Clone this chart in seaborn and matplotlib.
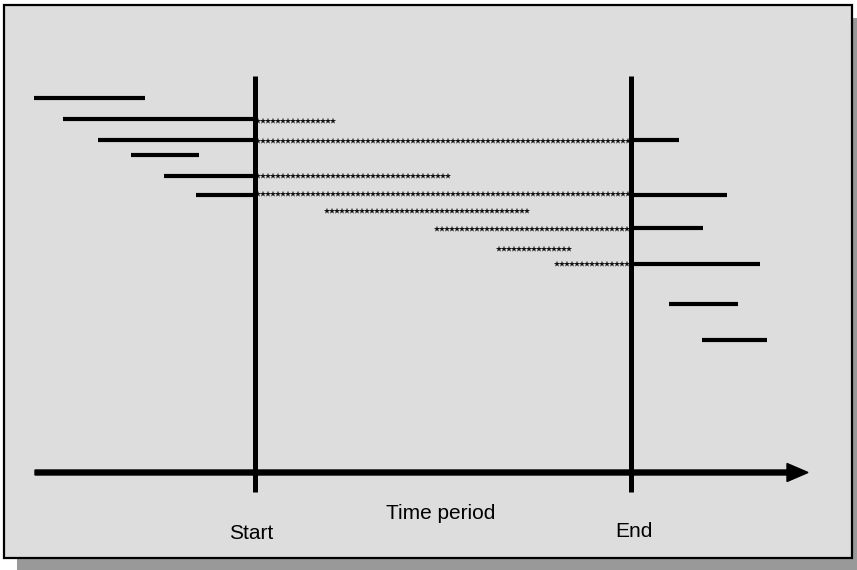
import matplotlib
matplotlib.use("Agg")
import matplotlib.pyplot as plt
import seaborn as sns
import numpy as np
import pandas as pd
from matplotlib.patches import Rectangle

sns.set_theme(style="white")
plt.rcParams['font.family'] = ['Liberation Sans', 'DejaVu Sans']

# period boundaries (x) and where the boundary lines run (y)
start_x = 255
end_x = 631
bound_top = 76
bound_bottom = 492

# solid bars: observed part of each spell
seg_y = [98, 119, 140, 155, 176, 195, 140, 195, 228, 264, 304, 340]
seg_x0 = [34, 63, 98, 131, 164, 196, 631, 631, 631, 631, 669, 702]
seg_x1 = [145, 255, 255, 199, 255, 255, 679, 727, 703, 760, 738, 767]

# starred bars: part of each spell inside the period
dot_y = [121, 141, 176, 194, 211, 229, 249, 264]
dot_x0 = [258, 258, 258, 258, 327, 437, 499, 557]
dot_x1 = [336, 629, 448, 629, 528, 628, 571, 627]

labels = ["Start", "Time period", "End"]
label_x = [251, 441, 634]
label_y = [539, 519, 537]

fig = plt.figure(figsize=(8.57, 5.70), dpi=100)
ax = fig.add_axes([0, 0, 1, 1])
ax.set_xlim(0, 857)
ax.set_ylim(570, 0)
ax.axis("off")

# frame with drop shadow
ax.add_patch(Rectangle((17, 18), 850, 560, facecolor="#999999", edgecolor="none", zorder=0))
ax.add_patch(Rectangle((4.5, 5), 848, 553, facecolor="#DDDDDD", edgecolor="black", lw=1.6, zorder=1))

rows = []
for i, (y, a, b) in enumerate(zip(seg_y, seg_x0, seg_x1)):
    rows.append({"seg": i, "x": a, "y": y})
    rows.append({"seg": i, "x": b, "y": y})
seg_df = pd.DataFrame(rows)
sns.lineplot(data=seg_df, x="x", y="y", units="seg", estimator=None, sort=False,
             color="black", lw=3.0, ax=ax, zorder=3, legend=False,
             solid_capstyle="butt")

pts = []
for y, a, b in zip(dot_y, dot_x0, dot_x1):
    for x in np.arange(a, b + 0.1, 5.0):
        pts.append({"x": x, "y": y})
dot_df = pd.DataFrame(pts)
sns.scatterplot(data=dot_df, x="x", y="y", marker="*", s=22, color="#111111",
                edgecolor="none", linewidth=0, ax=ax, zorder=3, legend=False)

ax.vlines([start_x, end_x], bound_top, bound_bottom, color="black", lw=3.6, zorder=4,
          capstyle="butt")
ax.arrow(35, 472.5, 773, 0, width=5, head_width=18, head_length=21,
         length_includes_head=True, color="black", zorder=4)

for t, x, y in zip(labels, label_x, label_y):
    ax.text(x, y, t, ha="center", va="baseline", fontsize=15, color="black", zorder=5)

ax.set_xlim(0, 857)
ax.set_ylim(570, 0)
ax.axis("off")
fig.savefig("out.png", dpi=100)
